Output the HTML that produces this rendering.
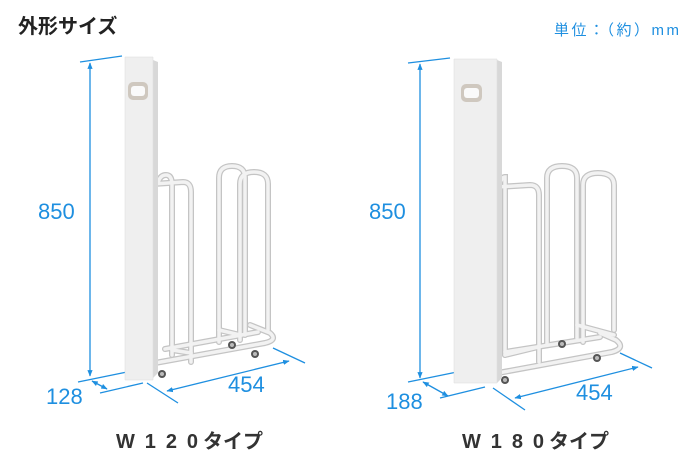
<!DOCTYPE html>
<html><head><meta charset="utf-8"><style>
body{margin:0;background:#fff;}
svg{display:block;}
text{font-family:"Liberation Sans","Noto Sans CJK JP",sans-serif;}
</style></head><body>
<svg width="700" height="467" viewBox="0 0 700 467" xmlns="http://www.w3.org/2000/svg">
<defs>
<marker id="a" viewBox="0 0 10 10" refX="9" refY="5" markerWidth="5" markerHeight="5" orient="auto-start-reverse"><path d="M0,1 L10,5 L0,9 z" fill="#1e8fe0"/></marker>
<g id="wheel"><circle r="4" fill="#555"/><circle r="2" fill="#bbb"/></g>
</defs>
<text x="18" y="33" font-size="20" font-weight="bold" fill="#222" font-family="'Noto Sans CJK JP',sans-serif">外形サイズ</text>
<text x="554" y="35" font-size="15" fill="#1e8fe0" font-family="'Noto Sans CJK JP',sans-serif" textLength="125">単位：（約）mm</text>

<!-- LEFT -->
<g stroke="#1e8fe0" stroke-width="1.3" fill="none">
<line x1="80" y1="62" x2="122" y2="56"/>
<line x1="90" y1="63" x2="90" y2="376" marker-start="url(#a)" marker-end="url(#a)"/>
<line x1="78" y1="382" x2="127" y2="372"/>
<line x1="92" y1="381" x2="107" y2="389" marker-start="url(#a)" marker-end="url(#a)"/>
<line x1="100" y1="393" x2="143" y2="383"/>
<line x1="147" y1="383" x2="178" y2="403"/>
<line x1="167" y1="391" x2="289" y2="361" marker-start="url(#a)" marker-end="url(#a)"/>
<line x1="273" y1="348" x2="305" y2="363"/>
</g>
<text x="38" y="219" font-size="22" fill="#1e8fe0">850</text>
<text x="46" y="404" font-size="22" fill="#1e8fe0">128</text>
<text x="228" y="392" font-size="22" fill="#1e8fe0">454</text>
<g fill="none" stroke-linecap="round">
<g stroke="#c4c4c4" stroke-width="6">
<path d="M158,183 Q160,175 166,175 Q172,175 172,185 L172,355"/>
<path d="M153,184 L183,182 Q191,182 191,192 L191,362"/>
<path d="M219,342 L219,178 Q219,166 232,166 Q245,166 245,178 L245,335"/>
<path d="M240,340 L240,184 Q240,172 254,172 Q268,172 268,184 L268,330"/>
<path d="M155,363 L265,343 Q278,340 270,333 L250,325"/>
<path d="M165,349 L258,332"/>
<path d="M172,350 L191,353 M219,330 L240,335"/>
</g>
<g stroke="#f2f2f2" stroke-width="3.5">
<path d="M158,183 Q160,175 166,175 Q172,175 172,185 L172,355"/>
<path d="M153,184 L183,182 Q191,182 191,192 L191,362"/>
<path d="M219,342 L219,178 Q219,166 232,166 Q245,166 245,178 L245,335"/>
<path d="M240,340 L240,184 Q240,172 254,172 Q268,172 268,184 L268,330"/>
<path d="M155,363 L265,343 Q278,340 270,333 L250,325"/>
<path d="M165,349 L258,332"/>
<path d="M172,350 L191,353 M219,330 L240,335"/>
</g>
</g>
<use href="#wheel" x="162" y="374"/><use href="#wheel" x="232" y="345"/><use href="#wheel" x="255" y="354"/>
<polygon points="153,60 158,62 158,373 153,378" fill="#d8d8d8"/>
<polygon points="125,57 153,57 153,380 125,380" fill="#efefef" stroke="#ddd" stroke-width="0.5"/>
<rect x="128" y="82" width="20" height="18" rx="5" fill="#cfc8bf"/>
<rect x="131" y="86" width="14" height="10" rx="3" fill="#fafafa"/>

<!-- RIGHT -->
<g stroke="#1e8fe0" stroke-width="1.3" fill="none">
<line x1="408" y1="63" x2="450" y2="58"/>
<line x1="420" y1="64" x2="420" y2="378" marker-start="url(#a)" marker-end="url(#a)"/>
<line x1="408" y1="382" x2="457" y2="372"/>
<line x1="423" y1="382" x2="448" y2="396" marker-start="url(#a)" marker-end="url(#a)"/>
<line x1="440" y1="398" x2="485" y2="387"/>
<line x1="493" y1="388" x2="525" y2="410"/>
<line x1="515" y1="398" x2="638" y2="367" marker-start="url(#a)" marker-end="url(#a)"/>
<line x1="620" y1="353" x2="652" y2="368"/>
</g>
<text x="369" y="219" font-size="22" fill="#1e8fe0">850</text>
<text x="386" y="409" font-size="22" fill="#1e8fe0">188</text>
<text x="576" y="400" font-size="22" fill="#1e8fe0">454</text>
<g fill="none" stroke-linecap="round">
<g stroke="#c4c4c4" stroke-width="6">
<path d="M500,183 Q502,177 505,177 Q505,177 505,185 L505,355"/>
<path d="M497,187 L530,185 Q539,185 539,195 L539,362"/>
<path d="M547,345 L547,178 Q547,166 562,166 Q577,166 577,178 L577,338"/>
<path d="M583,342 L583,185 Q583,173 598,173 Q614,173 614,185 L614,330"/>
<path d="M498,373 L612,352 Q626,348 616,340 L600,333"/>
<path d="M505,352 L600,337"/>
<path d="M505,355 L538,347 M577,325 L614,335"/>
</g>
<g stroke="#f2f2f2" stroke-width="3.5">
<path d="M500,183 Q502,177 505,177 Q505,177 505,185 L505,355"/>
<path d="M497,187 L530,185 Q539,185 539,195 L539,362"/>
<path d="M547,345 L547,178 Q547,166 562,166 Q577,166 577,178 L577,338"/>
<path d="M583,342 L583,185 Q583,173 598,173 Q614,173 614,185 L614,330"/>
<path d="M498,373 L612,352 Q626,348 616,340 L600,333"/>
<path d="M505,352 L600,337"/>
<path d="M505,355 L538,347 M577,325 L614,335"/>
</g>
</g>
<use href="#wheel" x="505" y="380"/><use href="#wheel" x="562" y="344"/><use href="#wheel" x="597" y="358"/>
<polygon points="497,60 502,62 502,378 497,383" fill="#d8d8d8"/>
<polygon points="454,59 497,59 497,383 454,383" fill="#efefef" stroke="#ddd" stroke-width="0.5"/>
<rect x="461" y="84" width="21" height="18" rx="5" fill="#cfc8bf"/>
<rect x="464" y="88" width="15" height="10" rx="3" fill="#fafafa"/>

<text x="116" y="448" font-size="20" font-weight="bold" fill="#333" textLength="82" lengthAdjust="spacing">W120</text>
<text x="203" y="448" font-size="20" font-weight="bold" fill="#333" font-family="'Noto Sans CJK JP',sans-serif">タイプ</text>
<text x="462" y="448" font-size="20" font-weight="bold" fill="#333" textLength="82" lengthAdjust="spacing">W180</text>
<text x="549" y="448" font-size="20" font-weight="bold" fill="#333" font-family="'Noto Sans CJK JP',sans-serif">タイプ</text>
</svg>
</body></html>
